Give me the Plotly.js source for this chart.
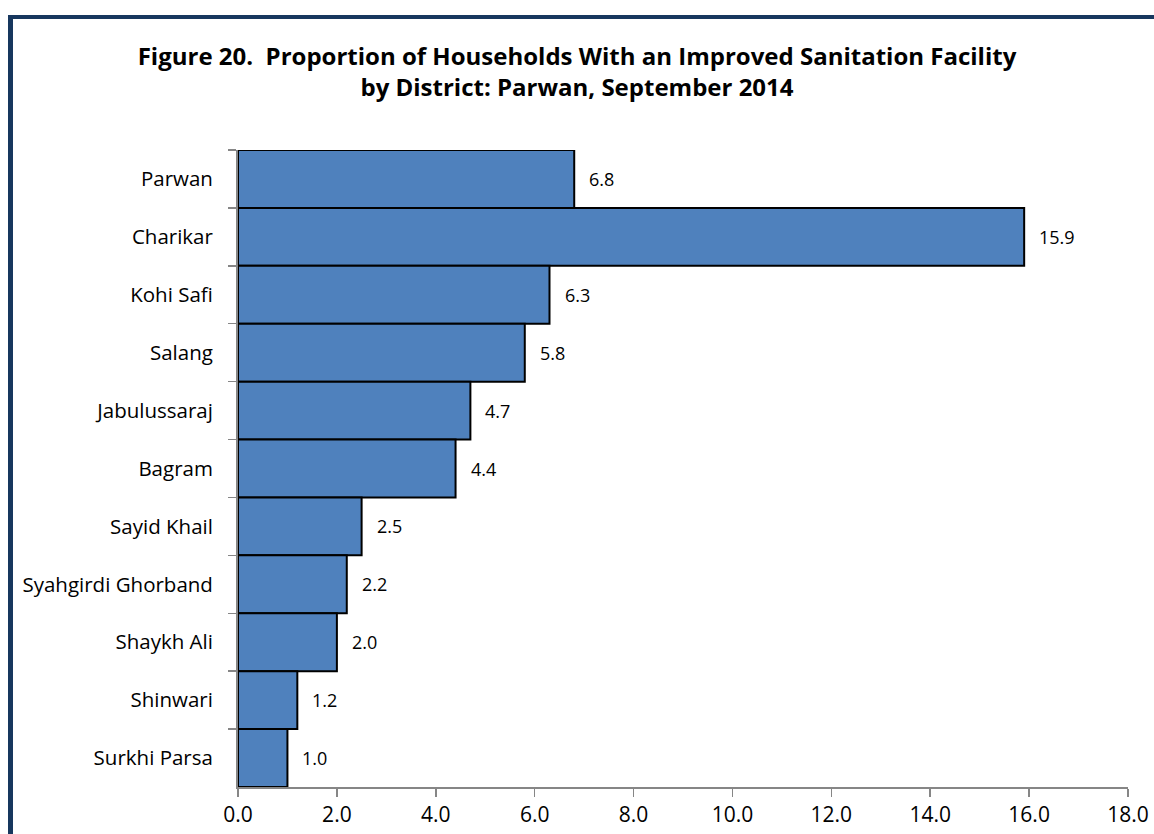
<!DOCTYPE html>
<html>
<head>
<meta charset="utf-8">
<script src="https://cdn.plot.ly/plotly-3.0.1.min.js"></script>
<style>
  html, body { margin: 0; padding: 0; background: #fff; }
  #wrap { position: relative; width: 1154px; height: 834px; }
  #chart { position: absolute; left: 0; top: 0; width: 1154px; height: 834px; }
  #frame { position: absolute; left: 8px; top: 15px; width: 1160px; height: 840px;
           border-left: 5px solid #17375E; border-top: 4px solid #17375E;
           pointer-events: none; box-sizing: border-box; }
</style>
</head>
<body>
<div id="wrap">
  <div id="chart"></div>
  <div id="frame"></div>
</div>
<script>
// Districts of Parwan, top to bottom
const districts = [
  "Parwan", "Charikar", "Kohi Safi", "Salang", "Jabulussaraj", "Bagram",
  "Sayid Khail", "Syahgirdi Ghorband", "Shaykh Ali", "Shinwari", "Surkhi Parsa"
];
// Percent of households with an improved sanitation facility
const improvedPct = [6.8, 15.9, 6.3, 5.8, 4.7, 4.4, 2.5, 2.2, 2.0, 1.2, 1.0];
const xTicks = [0, 2, 4, 6, 8, 10, 12, 14, 16, 18];
const xTickText = xTicks.map(v => v.toFixed(1));
const titleLine1 = "Figure 20.\u00a0 Proportion of Households With an Improved Sanitation Facility";
const titleLine2 = "by District: Parwan, September 2014";

const FONT = "'Open Sans', sans-serif";

const trace = {
  type: "bar",
  orientation: "h",
  x: improvedPct,
  y: districts,
  marker: { color: "#4F81BD", line: { color: "#000000", width: 2 } },
  hoverinfo: "x+y"
};

const labels = districts.map((d, i) => ({
  x: improvedPct[i], y: d, xref: "x", yref: "y",
  text: improvedPct[i].toFixed(1),
  showarrow: false, xanchor: "left", yanchor: "middle", xshift: 13,
  font: { family: FONT, size: 18, color: "#000" }
}));

const layout = {
  width: 1154, height: 834,
  paper_bgcolor: "#ffffff", plot_bgcolor: "#ffffff",
  margin: { l: 238, r: 26, t: 150, b: 47 },
  showlegend: false,
  bargap: 0,
  title: {
    text: "<b>" + titleLine1 + "<br>" + titleLine2 + "</b>",
    x: 0.5, xref: "container", xanchor: "center",
    y: 0.922, yref: "container", yanchor: "top",
    font: { family: FONT, size: 24, color: "#000" }
  },
  xaxis: {
    range: [0, 18],
    tickvals: xTicks, ticktext: xTickText,
    ticks: "outside", ticklen: 8, tickwidth: 1.5, tickcolor: "#868686",
    showline: true, linecolor: "#868686", linewidth: 2,
    showgrid: false, zeroline: false,
    tickfont: { family: FONT, size: 21, color: "#000" }
  },
  yaxis: {
    type: "category",
    autorange: "reversed",
    tickson: "boundaries",
    ticks: "outside", ticklen: 8, tickwidth: 1.5, tickcolor: "#868686",
    ticklabelstandoff: 19,
    showline: true, linecolor: "#868686", linewidth: 2,
    showgrid: false, zeroline: false,
    tickfont: { family: FONT, size: 20.5, color: "#000" }
  },
  annotations: labels
};

Plotly.newPlot("chart", [trace], layout, { displayModeBar: false, staticPlot: true });
</script>
</body>
</html>
